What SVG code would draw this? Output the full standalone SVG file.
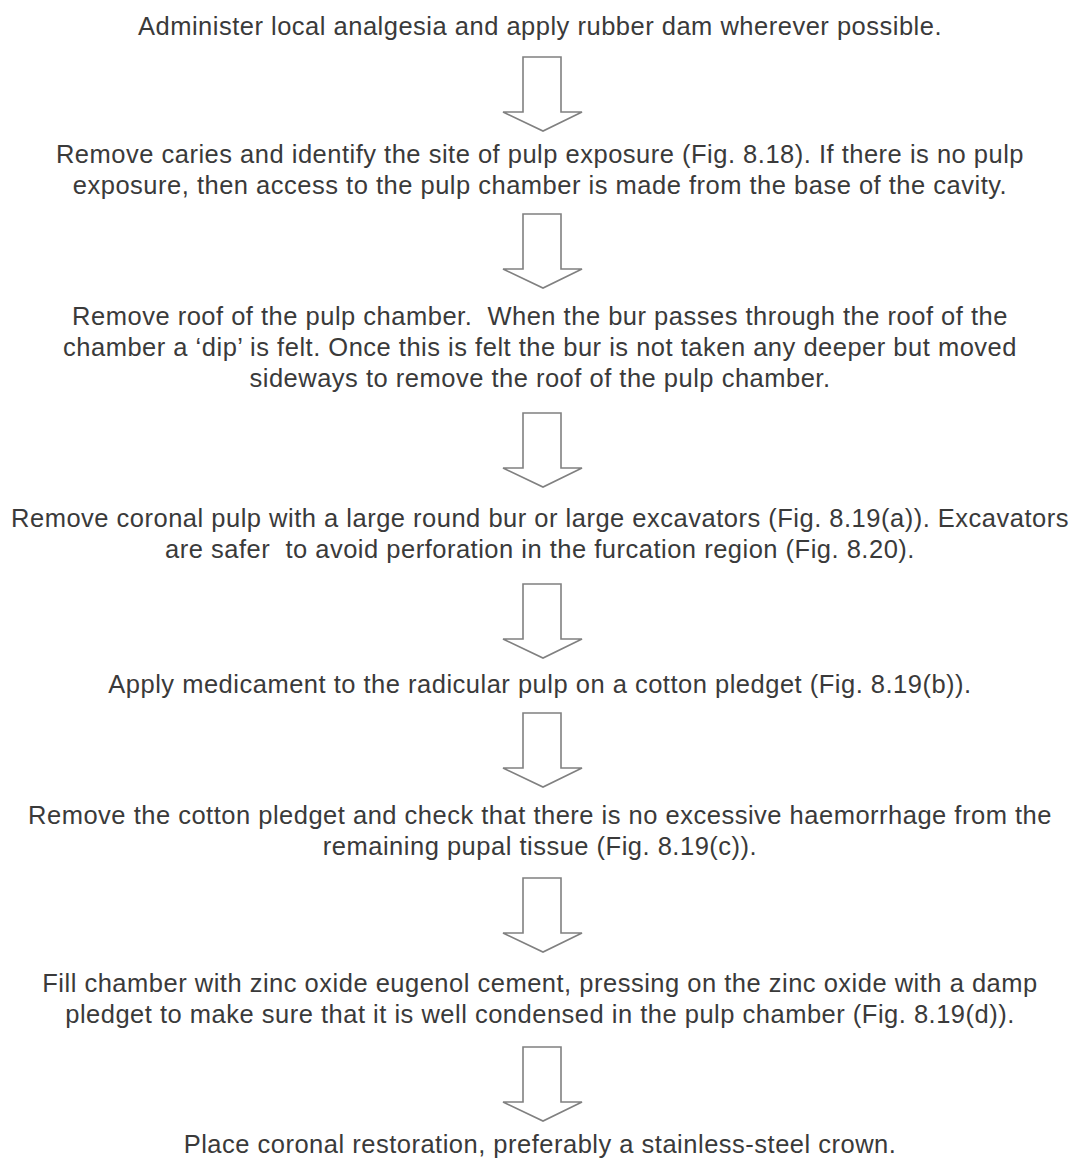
<svg xmlns="http://www.w3.org/2000/svg" xmlns:xlink="http://www.w3.org/1999/xlink" width="1075" height="1162" viewBox="0 0 1075 1162">
<style>
.t{font-family:"Liberation Sans",Arial,sans-serif;font-size:25.5px;letter-spacing:0.5px;fill:#3a3a3a;text-anchor:middle}
.a{fill:#fff;stroke:#808080;stroke-width:1.6;stroke-linejoin:miter}
</style>
<defs>
<path id="arr" d="M523,0 H561 V55 H582 L543,74 L503,55 H523 Z"/>
</defs>
<rect width="1075" height="1162" fill="#fff"/>
<g id="connectors">
<use xlink:href="#arr" href="#arr" class="a" transform="translate(0,57)"/>
<use xlink:href="#arr" href="#arr" class="a" transform="translate(0,214)"/>
<use xlink:href="#arr" href="#arr" class="a" transform="translate(0,413)"/>
<use xlink:href="#arr" href="#arr" class="a" transform="translate(0,584)"/>
<use xlink:href="#arr" href="#arr" class="a" transform="translate(0,713)"/>
<use xlink:href="#arr" href="#arr" class="a" transform="translate(0,878)"/>
<use xlink:href="#arr" href="#arr" class="a" transform="translate(0,1047)"/>
</g>
<g id="step1"><text class="t" x="540" y="35">Administer local analgesia and apply rubber dam wherever possible.</text></g>
<g id="step2"><text class="t" x="540" y="163">Remove caries and identify the site of pulp exposure (Fig. 8.18). If there is no pulp</text>
<text class="t" x="540" y="194">exposure, then access to the pulp chamber is made from the base of the cavity.</text></g>
<g id="step3"><text class="t" x="540" y="325" xml:space="preserve">Remove roof of the pulp chamber.  When the bur passes through the roof of the</text>
<text class="t" x="540" y="356">chamber a ‘dip’ is felt. Once this is felt the bur is not taken any deeper but moved</text>
<text class="t" x="540" y="387">sideways to remove the roof of the pulp chamber.</text></g>
<g id="step4"><text class="t" x="540" y="527">Remove coronal pulp with a large round bur or large excavators (Fig. 8.19(a)). Excavators</text>
<text class="t" x="540" y="558" xml:space="preserve">are safer  to avoid perforation in the furcation region (Fig. 8.20).</text></g>
<g id="step5"><text class="t" x="540" y="693">Apply medicament to the radicular pulp on a cotton pledget (Fig. 8.19(b)).</text></g>
<g id="step6"><text class="t" x="540" y="824">Remove the cotton pledget and check that there is no excessive haemorrhage from the</text>
<text class="t" x="540" y="855">remaining pupal tissue (Fig. 8.19(c)).</text></g>
<g id="step7"><text class="t" x="540" y="992">Fill chamber with zinc oxide eugenol cement, pressing on the zinc oxide with a damp</text>
<text class="t" x="540" y="1023">pledget to make sure that it is well condensed in the pulp chamber (Fig. 8.19(d)).</text></g>
<g id="step8"><text class="t" x="540" y="1153">Place coronal restoration, preferably a stainless-steel crown.</text></g>
</svg>
